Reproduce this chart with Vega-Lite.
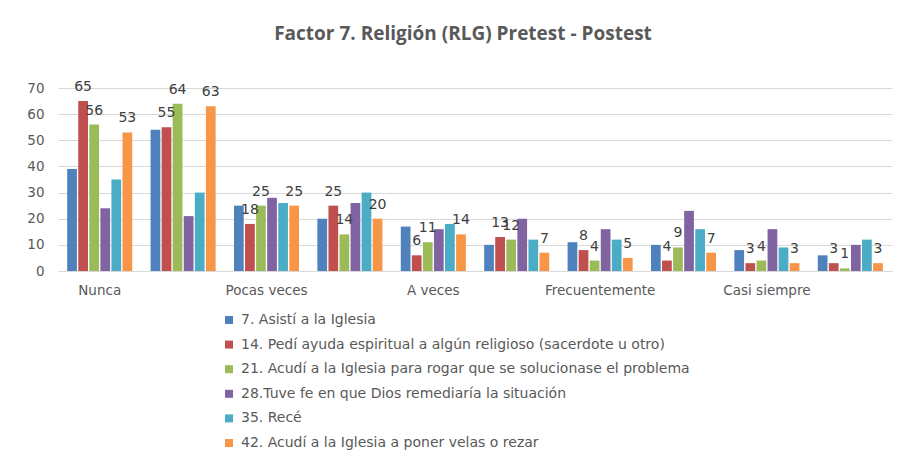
{
  "$schema": "https://vega.github.io/schema/vega-lite/v6.json",
  "autosize": "none",
  "width": 834,
  "height": 183,
  "padding": {"left": 58, "top": 88, "right": 14, "bottom": 184},
  "background": "white",
  "title": {
    "text": "Factor 7. Religión (RLG) Pretest - Postest",
    "font": "Open Sans",
    "fontSize": 19,
    "fontWeight": "bold",
    "color": "#595959",
    "anchor": "middle",
    "dx": -12,
    "offset": 36
  },
  "config": {
    "view": {"stroke": null},
    "font": "DejaVu Sans",
    "axis": {"labelColor": "#595959", "labelFont": "DejaVu Sans", "labelFontSize": 13.5}
  },
  "data": {
    "values": [
      {"grupo": "Nunca - Pretest", "item": "7. Asistí a la Iglesia", "valor": 39},
      {"grupo": "Nunca - Pretest", "item": "14. Pedí ayuda espiritual a algún religioso (sacerdote u otro)", "valor": 65},
      {"grupo": "Nunca - Pretest", "item": "21. Acudí a la Iglesia para rogar que se solucionase el problema", "valor": 56},
      {"grupo": "Nunca - Pretest", "item": "28.Tuve fe en que Dios remediaría la situación", "valor": 24},
      {"grupo": "Nunca - Pretest", "item": "35. Recé", "valor": 35},
      {"grupo": "Nunca - Pretest", "item": "42. Acudí a la Iglesia a poner velas o rezar", "valor": 53},
      {"grupo": "Nunca - Postest", "item": "7. Asistí a la Iglesia", "valor": 54},
      {"grupo": "Nunca - Postest", "item": "14. Pedí ayuda espiritual a algún religioso (sacerdote u otro)", "valor": 55},
      {"grupo": "Nunca - Postest", "item": "21. Acudí a la Iglesia para rogar que se solucionase el problema", "valor": 64},
      {"grupo": "Nunca - Postest", "item": "28.Tuve fe en que Dios remediaría la situación", "valor": 21},
      {"grupo": "Nunca - Postest", "item": "35. Recé", "valor": 30},
      {"grupo": "Nunca - Postest", "item": "42. Acudí a la Iglesia a poner velas o rezar", "valor": 63},
      {"grupo": "Pocas veces - Pretest", "item": "7. Asistí a la Iglesia", "valor": 25},
      {"grupo": "Pocas veces - Pretest", "item": "14. Pedí ayuda espiritual a algún religioso (sacerdote u otro)", "valor": 18},
      {"grupo": "Pocas veces - Pretest", "item": "21. Acudí a la Iglesia para rogar que se solucionase el problema", "valor": 25},
      {"grupo": "Pocas veces - Pretest", "item": "28.Tuve fe en que Dios remediaría la situación", "valor": 28},
      {"grupo": "Pocas veces - Pretest", "item": "35. Recé", "valor": 26},
      {"grupo": "Pocas veces - Pretest", "item": "42. Acudí a la Iglesia a poner velas o rezar", "valor": 25},
      {"grupo": "Pocas veces - Postest", "item": "7. Asistí a la Iglesia", "valor": 20},
      {"grupo": "Pocas veces - Postest", "item": "14. Pedí ayuda espiritual a algún religioso (sacerdote u otro)", "valor": 25},
      {"grupo": "Pocas veces - Postest", "item": "21. Acudí a la Iglesia para rogar que se solucionase el problema", "valor": 14},
      {"grupo": "Pocas veces - Postest", "item": "28.Tuve fe en que Dios remediaría la situación", "valor": 26},
      {"grupo": "Pocas veces - Postest", "item": "35. Recé", "valor": 30},
      {"grupo": "Pocas veces - Postest", "item": "42. Acudí a la Iglesia a poner velas o rezar", "valor": 20},
      {"grupo": "A veces - Pretest", "item": "7. Asistí a la Iglesia", "valor": 17},
      {"grupo": "A veces - Pretest", "item": "14. Pedí ayuda espiritual a algún religioso (sacerdote u otro)", "valor": 6},
      {"grupo": "A veces - Pretest", "item": "21. Acudí a la Iglesia para rogar que se solucionase el problema", "valor": 11},
      {"grupo": "A veces - Pretest", "item": "28.Tuve fe en que Dios remediaría la situación", "valor": 16},
      {"grupo": "A veces - Pretest", "item": "35. Recé", "valor": 18},
      {"grupo": "A veces - Pretest", "item": "42. Acudí a la Iglesia a poner velas o rezar", "valor": 14},
      {"grupo": "A veces - Postest", "item": "7. Asistí a la Iglesia", "valor": 10},
      {"grupo": "A veces - Postest", "item": "14. Pedí ayuda espiritual a algún religioso (sacerdote u otro)", "valor": 13},
      {"grupo": "A veces - Postest", "item": "21. Acudí a la Iglesia para rogar que se solucionase el problema", "valor": 12},
      {"grupo": "A veces - Postest", "item": "28.Tuve fe en que Dios remediaría la situación", "valor": 20},
      {"grupo": "A veces - Postest", "item": "35. Recé", "valor": 12},
      {"grupo": "A veces - Postest", "item": "42. Acudí a la Iglesia a poner velas o rezar", "valor": 7},
      {"grupo": "Frecuentemente - Pretest", "item": "7. Asistí a la Iglesia", "valor": 11},
      {"grupo": "Frecuentemente - Pretest", "item": "14. Pedí ayuda espiritual a algún religioso (sacerdote u otro)", "valor": 8},
      {"grupo": "Frecuentemente - Pretest", "item": "21. Acudí a la Iglesia para rogar que se solucionase el problema", "valor": 4},
      {"grupo": "Frecuentemente - Pretest", "item": "28.Tuve fe en que Dios remediaría la situación", "valor": 16},
      {"grupo": "Frecuentemente - Pretest", "item": "35. Recé", "valor": 12},
      {"grupo": "Frecuentemente - Pretest", "item": "42. Acudí a la Iglesia a poner velas o rezar", "valor": 5},
      {"grupo": "Frecuentemente - Postest", "item": "7. Asistí a la Iglesia", "valor": 10},
      {"grupo": "Frecuentemente - Postest", "item": "14. Pedí ayuda espiritual a algún religioso (sacerdote u otro)", "valor": 4},
      {"grupo": "Frecuentemente - Postest", "item": "21. Acudí a la Iglesia para rogar que se solucionase el problema", "valor": 9},
      {"grupo": "Frecuentemente - Postest", "item": "28.Tuve fe en que Dios remediaría la situación", "valor": 23},
      {"grupo": "Frecuentemente - Postest", "item": "35. Recé", "valor": 16},
      {"grupo": "Frecuentemente - Postest", "item": "42. Acudí a la Iglesia a poner velas o rezar", "valor": 7},
      {"grupo": "Casi siempre - Pretest", "item": "7. Asistí a la Iglesia", "valor": 8},
      {"grupo": "Casi siempre - Pretest", "item": "14. Pedí ayuda espiritual a algún religioso (sacerdote u otro)", "valor": 3},
      {"grupo": "Casi siempre - Pretest", "item": "21. Acudí a la Iglesia para rogar que se solucionase el problema", "valor": 4},
      {"grupo": "Casi siempre - Pretest", "item": "28.Tuve fe en que Dios remediaría la situación", "valor": 16},
      {"grupo": "Casi siempre - Pretest", "item": "35. Recé", "valor": 9},
      {"grupo": "Casi siempre - Pretest", "item": "42. Acudí a la Iglesia a poner velas o rezar", "valor": 3},
      {"grupo": "Casi siempre - Postest", "item": "7. Asistí a la Iglesia", "valor": 6},
      {"grupo": "Casi siempre - Postest", "item": "14. Pedí ayuda espiritual a algún religioso (sacerdote u otro)", "valor": 3},
      {"grupo": "Casi siempre - Postest", "item": "21. Acudí a la Iglesia para rogar que se solucionase el problema", "valor": 1},
      {"grupo": "Casi siempre - Postest", "item": "28.Tuve fe en que Dios remediaría la situación", "valor": 10},
      {"grupo": "Casi siempre - Postest", "item": "35. Recé", "valor": 12},
      {"grupo": "Casi siempre - Postest", "item": "42. Acudí a la Iglesia a poner velas o rezar", "valor": 3}
    ]
  },
  "encoding": {
    "x": {
      "field": "grupo",
      "type": "nominal",
      "sort": null,
      "scale": {"paddingInner": 0.22, "paddingOuter": 0.11},
      "axis": {
        "title": null,
        "labelAngle": 0,
        "ticks": false,
        "labelPadding": 12,
        "domainColor": "#d9d9d9",
        "labelExpr": "indexof(datum.label, 'Pretest') >= 0 ? split(datum.label, ' - ')[0] : ''"
      }
    },
    "xOffset": {
      "field": "item",
      "type": "nominal",
      "sort": null,
      "scale": {"paddingInner": 0.12}
    },
    "y": {
      "field": "valor",
      "type": "quantitative",
      "scale": {"domain": [0, 70]},
      "axis": {
        "title": null,
        "values": [0, 10, 20, 30, 40, 50, 60, 70],
        "ticks": false,
        "domain": false,
        "gridColor": "#d9d9d9",
        "labelPadding": 14
      }
    }
  },
  "layer": [
    {
      "mark": {"type": "bar"},
      "encoding": {
        "color": {
          "field": "item",
          "type": "nominal",
          "sort": null,
          "scale": {"range": ["#4F81BD", "#C0504D", "#9BBB59", "#8064A2", "#4BACC6", "#F79646"]},
          "legend": {
            "title": null,
            "orient": "none",
            "legendX": 164,
            "legendY": 225,
            "direction": "vertical",
            "symbolType": "square",
            "symbolSize": 64,
            "symbolStrokeWidth": 0,
            "labelFont": "DejaVu Sans",
            "labelFontSize": 14,
            "labelColor": "#595959",
            "labelLimit": 600,
            "rowPadding": 10.6,
            "labelOffset": 5
          }
        }
      }
    },
    {
      "transform": [
        {"filter": {"field": "item", "oneOf": [
          "14. Pedí ayuda espiritual a algún religioso (sacerdote u otro)",
          "21. Acudí a la Iglesia para rogar que se solucionase el problema",
          "42. Acudí a la Iglesia a poner velas o rezar"
        ]}}
      ],
      "mark": {"type": "text", "baseline": "bottom", "dy": -7, "fontSize": 14, "font": "DejaVu Sans", "color": "#404040"},
      "encoding": {
        "text": {"field": "valor", "type": "quantitative"}
      }
    }
  ]
}
